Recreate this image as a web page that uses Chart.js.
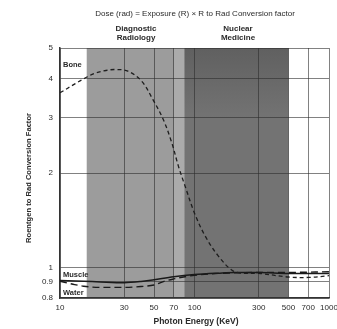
<!DOCTYPE html>
<html>
<head>
<meta charset="utf-8">
<script src="https://cdn.jsdelivr.net/npm/chart.js@4"></script>
<style>
  html, body { margin: 0; padding: 0; background: #fff; }
  #c { display: block; }
</style>
</head>
<body>
<canvas id="c" width="337" height="329"></canvas>
<script>
'use strict';

// ---------------------------------------------------------------- data
const energyTicks = [10, 30, 50, 70, 100, 300, 500, 700, 1000];
const factorTicks = [0.8, 0.9, 1, 2, 3, 4, 5];

const boneEnergy = [10, 13, 15.5, 18, 22, 25.6, 32, 40.5, 49, 58.6, 67.7, 76, 85, 100, 120, 150, 190, 225, 300, 500, 700, 1000];
const boneFactor = [3.6, 3.85, 4.02, 4.15, 4.24, 4.27, 4.22, 3.92, 3.43, 2.96, 2.5, 2.1, 1.82, 1.49, 1.26, 1.09, 0.98, 0.96, 0.958, 0.933, 0.93, 0.942];

const muscleEnergy = [10, 15, 20, 30, 40, 50, 70, 100, 150, 200, 300, 500, 1000];
const muscleFactor = [0.91, 0.905, 0.9, 0.895, 0.903, 0.915, 0.935, 0.95, 0.96, 0.965, 0.965, 0.958, 0.958];

const waterEnergy = [10, 12.5, 15, 20, 30, 40, 50, 60, 70, 85, 100, 150, 200, 300, 500, 1000];
const waterFactor = [0.905, 0.885, 0.872, 0.865, 0.865, 0.87, 0.88, 0.905, 0.92, 0.935, 0.945, 0.958, 0.962, 0.965, 0.965, 0.97];

// energy ranges (keV) of the shaded application bands
const diagnosticBand = [15.8, 84];
const stripBand = [70, 84];
const nuclearBand = [84, 500];

const INK = '#2a2a2a';
const FONT = '"Liberation Sans", Arial, sans-serif';

const pts = (xs, ys) => xs.map((x, i) => ({ x, y: ys[i] }));

// ---------------------------------------------------------------- decorations
const backdrop = {
  id: 'backdrop',
  beforeDraw(chart) {
    const { ctx, chartArea: a, scales: { x } } = chart;
    const px = (v) => x.getPixelForValue(v);
    const h = a.bottom - a.top;
    ctx.save();
    ctx.fillStyle = '#fff';
    ctx.fillRect(0, 0, chart.width, chart.height);
    ctx.fillStyle = '#9c9c9c';
    ctx.fillRect(px(diagnosticBand[0]), a.top, px(diagnosticBand[1]) - px(diagnosticBand[0]), h);
    ctx.fillStyle = '#ababab';
    ctx.fillRect(px(stripBand[0]), a.top, px(stripBand[1]) - px(stripBand[0]), h);
    const g = ctx.createLinearGradient(0, a.top, 0, a.top + 70);
    g.addColorStop(0, '#606060');
    g.addColorStop(1, '#737373');
    ctx.fillStyle = g;
    ctx.fillRect(px(nuclearBand[0]), a.top, px(nuclearBand[1]) - px(nuclearBand[0]), h);
    ctx.restore();
  },
  afterDraw(chart) {
    const { ctx, scales: { x, y } } = chart;
    const px = (v) => x.getPixelForValue(v);
    ctx.save();
    ctx.fillStyle = INK;
    ctx.textBaseline = 'middle';
    ctx.textAlign = 'center';

    ctx.font = `8px ${FONT}`;
    ctx.fillText('Dose (rad) = Exposure (R) \u00d7 R to Rad Conversion factor', 195, 14);

    ctx.font = `bold 8px ${FONT}`;
    ctx.fillText('Diagnostic', 136, 29);
    ctx.fillText('Radiology', 136, 38);
    ctx.fillText('Nuclear', 238, 29);
    ctx.fillText('Medicine', 238, 38);

    ctx.font = `bold 8.5px ${FONT}`;
    ctx.fillText('Photon Energy (KeV)', 196, 322);

    ctx.save();
    ctx.translate(29, 178);
    ctx.rotate(-Math.PI / 2);
    ctx.font = `bold 7.6px ${FONT}`;
    ctx.fillText('Roentgen to Rad Conversion Factor', 0, 0);
    ctx.restore();

    ctx.textAlign = 'left';
    ctx.font = `bold 7.5px ${FONT}`;
    const lx = px(10) + 3;
    ctx.fillText('Bone', lx, y.getPixelForValue(4.42));
    ctx.fillText('Muscle', lx, y.getPixelForValue(0.95));
    ctx.fillText('Water', lx, y.getPixelForValue(0.83));
    ctx.restore();
  },
};

// ---------------------------------------------------------------- chart
new Chart(document.getElementById('c'), {
  type: 'line',
  data: {
    datasets: [
      { label: 'Bone', data: pts(boneEnergy, boneFactor), borderColor: '#1e1e1e', borderWidth: 1.3,
        borderDash: [4, 3], tension: 0.35, pointRadius: 0 },
      { label: 'Muscle', data: pts(muscleEnergy, muscleFactor), borderColor: '#1a1a1a', borderWidth: 1.5,
        cubicInterpolationMode: 'monotone', pointRadius: 0 },
      { label: 'Water', data: pts(waterEnergy, waterFactor), borderColor: '#1a1a1a', borderWidth: 1.4,
        borderDash: [7, 4], cubicInterpolationMode: 'monotone', pointRadius: 0 },
    ],
  },
  options: {
    responsive: false,
    animation: false,
    devicePixelRatio: 1,
    layout: { padding: { top: 48, right: 8, left: 0, bottom: 0 } },
    plugins: { legend: { display: false }, tooltip: { enabled: false } },
    scales: {
      x: {
        type: 'logarithmic', min: 10, max: 1000,
        afterBuildTicks: (s) => { s.ticks = energyTicks.map((value) => ({ value })); },
        afterFit: (s) => { s.height = 31; s.paddingLeft = 0; s.paddingRight = 0; },
        ticks: { color: INK, font: { family: FONT, size: 8 }, padding: 5, maxRotation: 0, autoSkip: false,
                 callback: (v) => String(v) },
        grid: { color: 'rgba(45,45,45,0.6)', lineWidth: 1, drawTicks: false },
        border: { color: '#333', width: 1.5 },
      },
      y: {
        type: 'logarithmic', min: 0.8, max: 5,
        afterBuildTicks: (s) => { s.ticks = factorTicks.map((value) => ({ value })); },
        afterFit: (s) => { s.width = 60; s.paddingTop = 0; s.paddingBottom = 0; },
        ticks: { color: INK, font: { family: FONT, size: 8 }, padding: 7, autoSkip: false,
                 callback: (v) => String(v) },
        grid: { color: 'rgba(45,45,45,0.6)', lineWidth: 1, drawTicks: false },
        border: { color: '#333', width: 1.5 },
      },
    },
  },
  plugins: [backdrop],
});
</script>
</body>
</html>
